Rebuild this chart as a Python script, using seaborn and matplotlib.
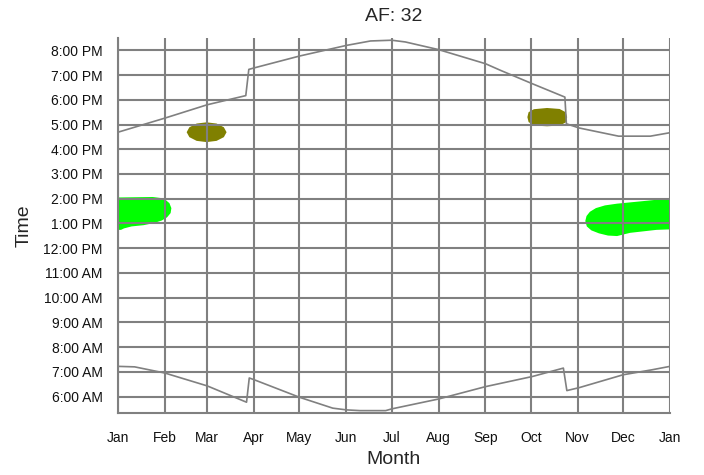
import numpy as np
import pandas as pd
import seaborn as sns
import matplotlib.pyplot as plt

# ── Axis categories / labels ─────────────────────────────────────────────────
month_starts = [0, 31, 59, 90, 120, 151, 181, 212, 243, 273, 304, 334, 365]
month_labels = ["Jan", "Feb", "Mar", "Apr", "May", "Jun",
                "Jul", "Aug", "Sep", "Oct", "Nov", "Dec", "Jan"]

hour_ticks = [6, 7, 8, 9, 10, 11, 12, 13, 14, 15, 16, 17, 18, 19, 20]
hour_labels = ["6:00 AM", "7:00 AM", "8:00 AM", "9:00 AM", "10:00 AM",
               "11:00 AM", "12:00 PM", "1:00 PM", "2:00 PM", "3:00 PM",
               "4:00 PM", "5:00 PM", "6:00 PM", "7:00 PM", "8:00 PM"]

# ── Sunset / sunrise (day of year, hour of day) ──────────────────────────────
sunset_day = [0, 31, 59, 84.5, 86.5, 90, 120, 151, 167, 181, 190,
              212, 243, 253, 274, 295.5, 296.5, 305, 331, 352, 365]
sunset_hr = [16.69, 17.26, 17.80, 18.17, 19.23, 19.29, 19.77, 20.20, 20.38, 20.41, 20.34,
             20.03, 19.46, 19.19, 18.65, 18.11, 17.03, 16.86, 16.53, 16.53, 16.67]

sunrise_day = [0, 11, 31, 59, 85, 86.8, 90, 120, 142, 151, 160, 177,
               181, 212, 243, 274, 294.5, 296.8, 305, 334, 353, 365]
sunrise_hr = [7.22, 7.20, 6.95, 6.43, 5.77, 6.75, 6.68, 5.97, 5.53, 5.46, 5.43, 5.43,
              5.50, 5.90, 6.40, 6.81, 7.15, 6.24, 6.36, 6.88, 7.08, 7.22]

# ── Glare regions (outline: day, hour) ───────────────────────────────────────
green_jan_day = [0, 23, 28, 31.5, 34, 35.3, 34.8, 32.5, 29, 24, 17, 9, 4, 2, 0]
green_jan_hr = [14.05, 14.07, 14.03, 13.95, 13.82, 13.62, 13.42, 13.25, 13.12, 13.02,
                12.93, 12.88, 12.80, 12.74, 12.74]

green_dec_day = [309, 309.8, 312, 316, 322, 330, 340, 350, 358, 365,
                 365, 356, 338.6, 330, 324, 318, 313, 310]
green_dec_hr = [13.10, 13.30, 13.47, 13.62, 13.73, 13.80, 13.86, 13.92, 13.97, 14.03,
                12.76, 12.74, 12.62, 12.49, 12.51, 12.60, 12.72, 12.88]

olive_mar_day = [71.8, 70.0, 65.2, 58.6, 52.0, 47.2, 45.4, 47.2, 52.0, 58.6, 65.2, 70.0]
olive_mar_hr = [16.69, 16.89, 17.04, 17.09, 17.04, 16.89, 16.69, 16.49, 16.34, 16.29, 16.34, 16.49]

olive_oct_day = [270.7, 271.5, 275, 283.7, 292, 296, 297, 296, 292, 283.7, 275, 271.5]
olive_oct_hr = [17.30, 17.50, 17.62, 17.67, 17.63, 17.50, 17.30, 17.08, 16.96, 16.93, 16.96, 17.10]

GRAY = "#808080"

sns.set_style("white")
plt.rcParams["font.family"] = ["Liberation Sans", "DejaVu Sans"]

fig = plt.figure(figsize=(7.04, 4.75), dpi=100)
ax = fig.add_axes([0.1676, 0.1305, 0.7841, 0.7895])

# glare blobs (under the grid)
ax.fill(green_jan_day, green_jan_hr, color="#00FF00", lw=0, zorder=0.2)
ax.fill(green_dec_day, green_dec_hr, color="#00FF00", lw=0, zorder=0.2)
ax.fill(olive_mar_day, olive_mar_hr, color="#808000", lw=0, zorder=0.2)
ax.fill(olive_oct_day, olive_oct_hr, color="#808000", lw=0, zorder=0.2)

sun = pd.concat([
    pd.DataFrame({"day": sunset_day, "hour": sunset_hr, "series": "sunset"}),
    pd.DataFrame({"day": sunrise_day, "hour": sunrise_hr, "series": "sunrise"}),
])
sns.lineplot(data=sun, x="day", y="hour", hue="series", units="series",
             estimator=None, sort=False, palette=[GRAY, GRAY],
             linewidth=1.2, legend=False, ax=ax, zorder=3)

ax.set_xlim(0, 365)
ax.set_ylim(5 + 20 / 60, 20.5)

ax.set_xticks(month_starts)
ax.set_xticklabels(month_labels)
minor_x = [a + k * (b - a) / 4 for a, b in zip(month_starts[:-1], month_starts[1:]) for k in (1, 2, 3)]
ax.set_xticks(minor_x, minor=True)

ax.set_yticks(hour_ticks)
ax.set_yticklabels(hour_labels)
ax.set_yticks(np.arange(5 + 20 / 60, 20.51, 1 / 6), minor=True)

ax.set_axisbelow(True)
ax.grid(True, which="major", color=GRAY, linewidth=1.5)
ax.grid(False, which="minor")

for side in ("top", "right"):
    ax.spines[side].set_visible(False)
for side in ("left", "bottom"):
    ax.spines[side].set_color(GRAY)
    ax.spines[side].set_linewidth(1.5)

ax.tick_params(which="major", direction="out", length=7, width=1.2, color=GRAY,
               labelsize=10, labelcolor="#111111", pad=4)
ax.tick_params(which="minor", direction="out", length=4, width=1.0, color=GRAY)
ax.tick_params(axis="x", which="major", pad=6)

ax.set_title("AF: 32", fontsize=14, pad=12.5)
ax.set_xlabel("Month", fontsize=14)
ax.set_ylabel("Time", fontsize=14)
ax.xaxis.set_label_coords(0.5, -0.101)
ax.yaxis.set_label_coords(-0.155, 0.5)

fig.savefig("out.png", dpi=100)
